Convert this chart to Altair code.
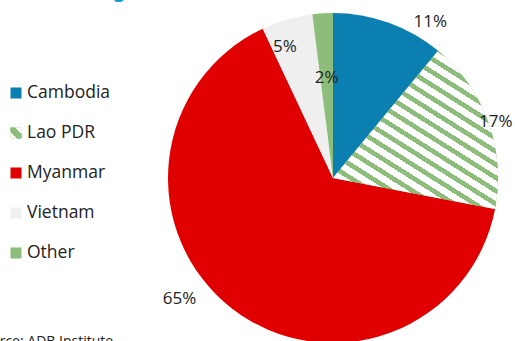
import math
import altair as alt
import pandas as pd

# Shares of migrant workers by country of origin (percent)
countries = ["Cambodia", "Lao PDR", "Myanmar", "Vietnam", "Other"]
shares = [11, 17, 65, 5, 2]
title_text = ["Share of migrant workers in Thailand"]
source_text = ["Source: ADB Institute"]

colors = ["#0b80b0", "#8cbd7a", "#e00000", "#efefef", "#8cbd7a"]
GREEN = "#8cbd7a"
FONT = "Open Sans"

df = pd.DataFrame({"country": countries, "share": shares})
df["end"] = df["share"].cumsum()
df["start"] = df["end"] - df["share"]
df["mid"] = df["start"] + df["share"] / 2
df["label"] = [f"{s}%" for s in shares]

CX, CY, R = 333, 178, 165


def stripes(n, frac, x1, y1, x2, y2):
    """Hard-edged linear gradient that reads as diagonal stripes."""
    stops = []
    for k in range(n):
        a, b, c = k / n, (k + frac) / n, (k + 1) / n
        stops += [
            alt.GradientStop(offset=a, color=GREEN),
            alt.GradientStop(offset=b, color=GREEN),
            alt.GradientStop(offset=b, color="white"),
            alt.GradientStop(offset=c, color="white"),
        ]
    return alt.LinearGradient(gradient="linear", stops=stops, x1=x1, y1=y1, x2=x2, y2=y2)


slice_stripes = stripes(20, 0.42, 0, 1, 0.7614, -0.1571)
icon_stripe = alt.LinearGradient(
    gradient="linear",
    x1=0, y1=1, x2=1, y2=0,
    stops=[
        alt.GradientStop(offset=0, color="white"),
        alt.GradientStop(offset=0.28, color="white"),
        alt.GradientStop(offset=0.28, color=GREEN),
        alt.GradientStop(offset=0.72, color=GREEN),
        alt.GradientStop(offset=0.72, color="white"),
        alt.GradientStop(offset=1, color="white"),
    ],
)

theta_scale = alt.Scale(domain=[0, 100], range=[0, 2 * math.pi])
fill_scale = alt.Scale(domain=countries, range=colors)
legend_y = alt.Scale(type="point", range=[93, 253], padding=0)

base = alt.Chart(df)

pie = base.mark_arc(outerRadius=R).encode(
    theta=alt.Theta("start:Q", scale=theta_scale, stack=None),
    theta2="end:Q",
    fill=alt.Fill("country:N", scale=fill_scale, legend=None),
    x=alt.value(CX),
    y=alt.value(CY),
)

lao_slice = base.transform_filter(alt.datum.country == "Lao PDR").mark_arc(
    outerRadius=R, fill=slice_stripes
).encode(
    theta=alt.Theta("start:Q", scale=theta_scale, stack=None),
    theta2="end:Q",
    x=alt.value(CX),
    y=alt.value(CY),
)

# label placement: radius from centre plus a small nudge
label_pos = {
    "Cambodia": (184, 35, 17),
    "Lao PDR": (172, 1, 2),
    "Myanmar": (195, -34, -33),
    "Vietnam": (140, -9, 3),
    "Other": (100, 0, 0),
}
label_layers = []
for name, (rad, ddx, ddy) in label_pos.items():
    label_layers.append(
        base.transform_filter(alt.datum.country == name)
        .mark_text(radius=rad, dx=ddx, dy=ddy, font=FONT, fontSize=17,
                   color="#222222", align="center", baseline="middle")
        .encode(
            theta=alt.Theta("mid:Q", scale=theta_scale, stack=None),
            text="label:N",
            x=alt.value(CX),
            y=alt.value(CY),
        )
    )

legend_sq = base.mark_square(size=121, opacity=1).encode(
    y=alt.Y("country:N", sort=countries, scale=legend_y, axis=None),
    x=alt.value(16),
    fill=alt.Fill("country:N", scale=fill_scale, legend=None),
)
legend_lao = base.transform_filter(alt.datum.country == "Lao PDR").mark_square(
    size=121, opacity=1, fill=icon_stripe
).encode(
    y=alt.Y("country:N", sort=countries, scale=legend_y, axis=None),
    x=alt.value(16),
)
legend_txt = base.mark_text(
    align="left", baseline="middle", font=FONT, fontSize=17.5, color="#222222"
).encode(
    y=alt.Y("country:N", sort=countries, scale=legend_y, axis=None),
    x=alt.value(27),
    text="country:N",
)

title = alt.Chart(pd.DataFrame({"t": title_text})).mark_text(
    align="left", baseline="alphabetic", font=FONT, fontWeight="bold",
    fontSize=19, color="#1a9ad0"
).encode(x=alt.value(6), y=alt.value(-3), text="t:N")

source = alt.Chart(pd.DataFrame({"t": source_text})).mark_text(
    align="left", baseline="alphabetic", font=FONT, fontSize=14, color="#222222"
).encode(x=alt.value(-25), y=alt.value(346), text="t:N")

chart = alt.layer(
    pie, lao_slice, *label_layers, legend_sq, legend_lao, legend_txt, title, source
).properties(
    width=515, height=341, padding=0, background="white",
    autosize=alt.AutoSizeParams(type="none"),
).configure_view(stroke=None)

chart.save("out.html", embed_options={"renderer": "svg", "actions": False})
